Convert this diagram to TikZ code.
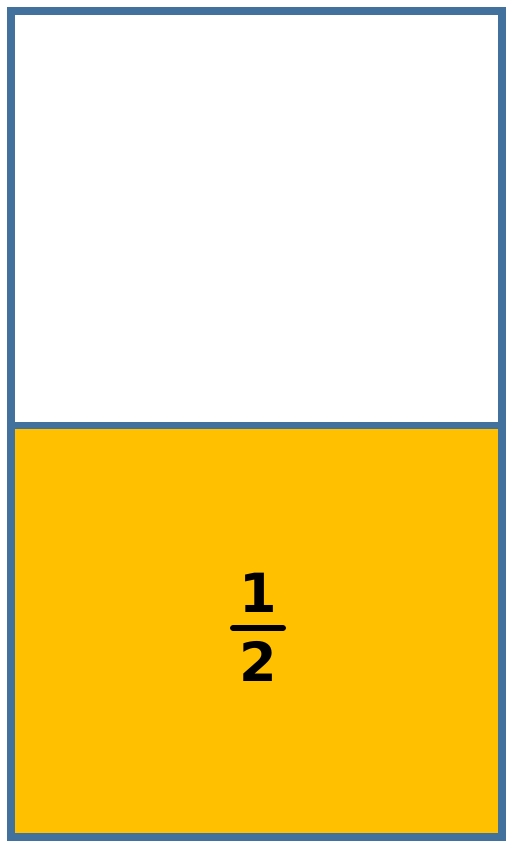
\documentclass[tikz,border=0pt]{standalone}
\usepackage{fontspec}
\setsansfont{DejaVu Sans}
\usetikzlibrary{positioning}
\definecolor{frameblue}{RGB}{65,113,156}
\definecolor{halfgold}{RGB}{255,192,0}

\begin{document}
\begin{tikzpicture}[x=1pt,y=-1pt,
  part/.style={draw=frameblue,line width=7pt},
  digit/.style={font=\sffamily\bfseries\fontsize{54}{54}\selectfont,inner sep=0pt}]
\useasboundingbox (0,0) rectangle (506,841);
\fill[halfgold] (11,425) rectangle (502,837);
\draw[part] (11,11) rectangle (502,425);
\draw[part] (11,425) rectangle (502,837);
\draw[frameblue,line width=8pt] (11,11) rectangle (502,837);
\node[digit] (num) at (258,593) {1};
\node[digit] (den) at (258,661) {2};
\coordinate (barL) at (233,628);
\coordinate (barR) at (283,628);
\draw[line width=6pt,line cap=round] (barL) -- (barR);
\end{tikzpicture}
\end{document}
